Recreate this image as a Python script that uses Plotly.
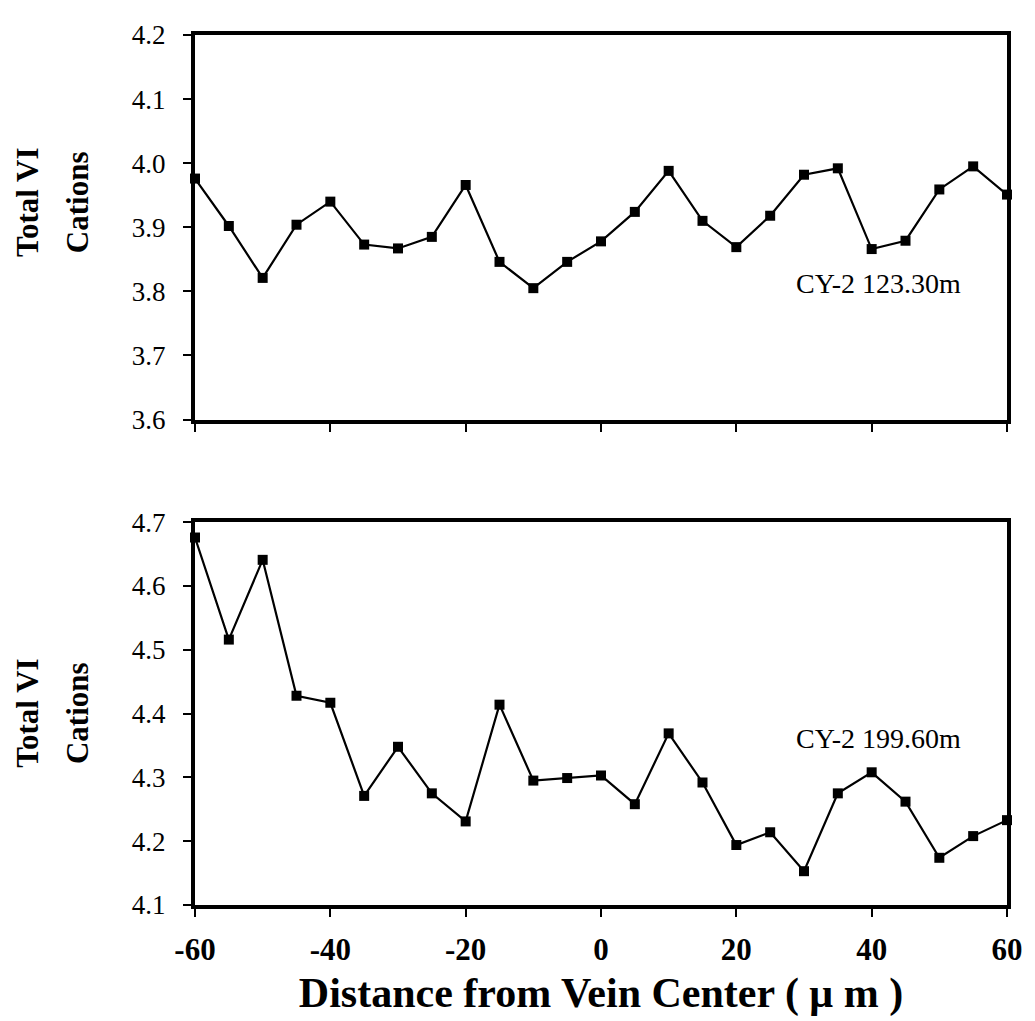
import plotly.graph_objects as go

# ---- data ----
distance = [-60, -55, -50, -45, -40, -35, -30, -25, -20, -15, -10, -5, 0,
            5, 10, 15, 20, 25, 30, 35, 40, 45, 50, 55, 60]

cations_123 = [3.976, 3.902, 3.821, 3.904, 3.940, 3.873, 3.867, 3.885, 3.966,
               3.846, 3.805, 3.846, 3.878, 3.924, 3.988, 3.910, 3.869, 3.918,
               3.982, 3.992, 3.866, 3.879, 3.959, 3.995, 3.951]

cations_199 = [4.676, 4.516, 4.641, 4.428, 4.417, 4.271, 4.348, 4.275, 4.231,
               4.414, 4.295, 4.299, 4.303, 4.258, 4.369, 4.292, 4.194, 4.214,
               4.153, 4.275, 4.308, 4.262, 4.174, 4.208, 4.233]

x_ticks = [-60, -40, -20, 0, 20, 40, 60]
x_tick_text = ["-60", "-40", "-20", "0", "20", "40", "60"]
y_ticks_top = [3.6, 3.7, 3.8, 3.9, 4.0, 4.1, 4.2]
y_ticks_bot = [4.1, 4.2, 4.3, 4.4, 4.5, 4.6, 4.7]

label_top = "CY-2 123.30m"
label_bot = "CY-2 199.60m"
y_title_1 = "Total VI"
y_title_2 = "Cations"
x_title = "Distance from Vein Center ( \u03bc m )"

SERIF = "Liberation Serif, Times New Roman, serif"
BLACK = "black"

fig = go.Figure()

marker = dict(symbol="square", size=10, color=BLACK)
line = dict(color=BLACK, width=2.2)

fig.add_trace(go.Scatter(x=distance, y=cations_123, mode="lines+markers",
                         marker=marker, line=line, xaxis="x", yaxis="y",
                         cliponaxis=False, showlegend=False))
fig.add_trace(go.Scatter(x=distance, y=cations_199, mode="lines+markers",
                         marker=marker, line=line, xaxis="x2", yaxis="y2",
                         cliponaxis=False, showlegend=False))

top_dom = [0.558, 1.0]
bot_dom = [0.0, 0.44]

common_x = dict(range=[-60, 60], tickvals=x_ticks, showgrid=False,
                zeroline=False, ticklen=8, tickwidth=2, tickcolor=BLACK)
common_y = dict(showgrid=False, zeroline=False, ticklen=8, tickwidth=2,
                tickcolor=BLACK)

fig.update_layout(
    width=1027, height=1013,
    margin=dict(l=187, r=15, t=21, b=103),
    paper_bgcolor="white", plot_bgcolor="white",
    font=dict(family=SERIF, color=BLACK),
    # top subplot
    xaxis=dict(**common_x, anchor="y", domain=[0, 1], ticks="outside",
               showticklabels=False, showline=True, linewidth=4,
               linecolor=BLACK, mirror=True),
    yaxis=dict(**common_y, anchor="x", domain=top_dom, range=[3.6, 4.2],
               tickvals=y_ticks_top, tickformat=".1f", ticks="outside",
               showline=True, linewidth=4, linecolor=BLACK, mirror=True,
               ticklabelstandoff=12,
               tickfont=dict(family=SERIF, size=27, color=BLACK)),
    # bottom subplot
    xaxis2=dict(**common_x, anchor="y2", domain=[0, 1], ticks="outside",
                ticktext=x_tick_text,
                showline=True, linewidth=4, linecolor=BLACK, mirror=True,
                ticklabelstandoff=6,
                tickfont=dict(family=SERIF, size=31, color=BLACK, weight="bold"),
                title=dict(text=x_title, standoff=12,
                           font=dict(family=SERIF, size=42, color=BLACK,
                                     weight="bold"))),
    yaxis2=dict(**common_y, anchor="x2", domain=bot_dom, range=[4.1, 4.7],
                tickvals=y_ticks_bot, tickformat=".1f", ticks="outside",
                showline=True, linewidth=4, linecolor=BLACK, mirror=True,
                ticklabelstandoff=12,
                tickfont=dict(family=SERIF, size=27, color=BLACK)),
    # overlay axes that draw the inner half of the crossing ticks
    xaxis3=dict(**common_x, overlaying="x", anchor="y", ticks="inside",
                showticklabels=False, showline=False),
    yaxis3=dict(**common_y, overlaying="y", anchor="x", side="left",
                range=[3.6, 4.2], tickvals=y_ticks_top, ticks="inside",
                showticklabels=False, showline=False),
    xaxis4=dict(**common_x, overlaying="x2", anchor="y2", ticks="inside",
                showticklabels=False, showline=False),
    yaxis4=dict(**common_y, overlaying="y2", anchor="x2", side="left",
                range=[4.1, 4.7], tickvals=y_ticks_bot, ticks="inside",
                showticklabels=False, showline=False),
)

ann_font = dict(family=SERIF, size=28, color=BLACK)
title_font = dict(family=SERIF, size=31, color=BLACK, weight="bold")

fig.add_annotation(x=41, y=3.812, xref="x", yref="y", text=label_top,
                   showarrow=False, font=ann_font)
fig.add_annotation(x=41, y=4.361, xref="x2", yref="y2", text=label_bot,
                   showarrow=False, font=ann_font)

# two-line rotated y-axis titles (positions relative to plot area)
for y_mid in [0.8077, 0.2205]:
    fig.add_annotation(x=-0.2061, y=y_mid, xref="paper", yref="paper",
                       text=y_title_1, textangle=-90, showarrow=False,
                       font=title_font, xanchor="center", yanchor="middle")
    fig.add_annotation(x=-0.1455, y=y_mid, xref="paper", yref="paper",
                       text=y_title_2, textangle=-90, showarrow=False,
                       font=title_font, xanchor="center", yanchor="middle")

fig.write_html("out.html")
